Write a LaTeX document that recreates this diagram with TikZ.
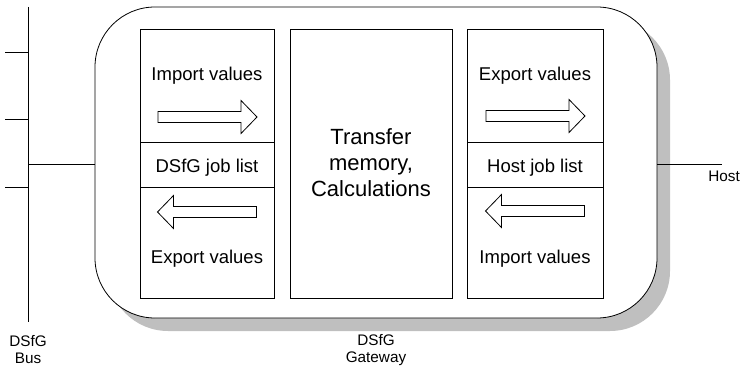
\documentclass[tikz,border=0pt]{standalone}
\usepackage{fontspec}
\setmainfont{Liberation Sans}
\begin{document}
\begin{tikzpicture}[x=1pt,y=-1pt,
  line width=0.8pt,
  col/.style={draw, minimum width=#1, inner sep=0pt, minimum height=269pt},
  band/.style={draw, minimum width=#1, inner sep=0pt, minimum height=45pt},
  boxtext/.style={anchor=base, inner sep=0pt, font=\fontsize{18.5}{22}\selectfont},
  small/.style={align=center, inner sep=0pt, font=\fontsize{15.3}{17}\selectfont},
  fatarrow/.pic={
    \draw[line width=0.8pt, fill=white]
      (-49.5,-5.5) -- (33.5,-5.5) -- (33.5,-16.5) -- (49.5,0) --
      (33.5,16.5) -- (33.5,5.5) -- (-49.5,5.5) -- cycle;
  }]
\useasboundingbox (0,0) rectangle (743,366);

% gateway housing with its drop shadow
\fill[black!25, rounded corners=60pt] (108,20) rectangle (670,331);
\node[draw, fill=white, rounded corners=60pt, minimum width=562pt,
      minimum height=311pt, inner sep=0pt] (gw) at (376,162.5) {};

% DSfG bus with stub lines
\coordinate (bustop) at (28,7);
\coordinate (busbot) at (28,322);
\draw (bustop) -- (busbot);
\foreach \y/\n in {52/s1, 119/s2, 187/s3} {
  \coordinate (\n) at (5,\y);
  \draw (\n) -- (\n -| bustop);
}
\coordinate (busjoin) at (28,164);
\draw (busjoin) -- (busjoin -| gw.west);

% host link
\coordinate (hostend) at (722,164);
\draw (hostend -| gw.east) -- (hostend);

% columns
\node[col=134pt] (lcol) at (207,163.5) {};
\node[band=134pt] (ljob) at (207,164.5) {};
\node[col=162pt] (mcol) at (371,164) {};
\node[col=136pt] (rcol) at (535,163.5) {};
\node[band=136pt] (rjob) at (535,164.5) {};

\node[align=center, inner sep=0pt, font=\fontsize{22}{26}\selectfont]
  (mtext) at (371,163) {Transfer\\memory,\\Calculations};

% column texts
\node[boxtext] (limp) at (207,81) {Import values};
\node[boxtext] (ljobt) at (207,172) {DSfG job list};
\node[boxtext] (lexp) at (207,263) {Export values};
\node[boxtext] (rexp) at (535,81) {Export values};
\node[boxtext] (rjobt) at (535,172) {Host job list};
\node[boxtext] (rimp) at (535,263) {Import values};

% transfer arrows
\pic at (207.5,117) {fatarrow};
\pic[xscale=-1] at (207,212) {fatarrow};
\pic at (535.5,116) {fatarrow};
\pic[xscale=-1] at (535,211) {fatarrow};

% labels
\node[small] (buslbl) at (28,350) {DSfG\\Bus};
\node[small] (gwlbl) at (376,350) {DSfG\\Gateway};
\node[small, anchor=base west] (hostlbl) at (708,182) {Host};
\end{tikzpicture}
\end{document}
